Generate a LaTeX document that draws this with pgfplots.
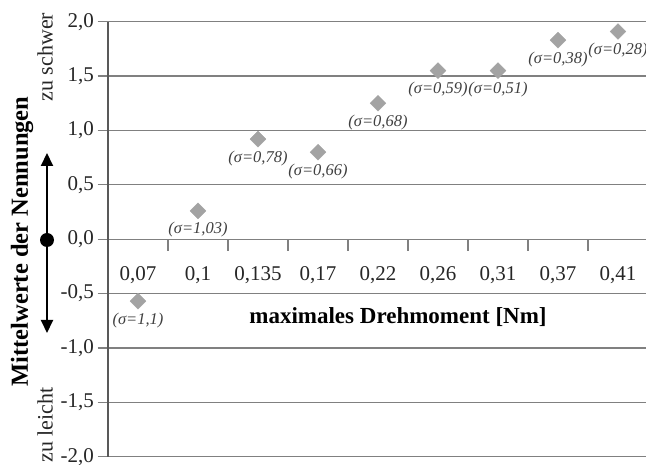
\documentclass[border=0pt]{standalone}
\usepackage{pgfplots}
\pgfplotsset{compat=1.18}
\usepackage{fontspec}
\setmainfont{Liberation Serif}
\usetikzlibrary{arrows.meta}
\definecolor{gridgray}{RGB}{128,128,128}
\definecolor{markgray}{RGB}{163,163,163}
\begin{document}
\begin{tikzpicture}
\begin{axis}[
 scale only axis, width=540bp, height=435bp,
 at={(108bp,8.3bp)}, anchor=south west,
 xmin=-0.5, xmax=8.5, ymin=-2, ymax=2,
 clip=false,
 axis x line=middle, axis y line=left,
 x axis line style={-, draw=gridgray, line width=1.2bp},
 y axis line style={-, draw=black!65, line width=1.3bp},
 hide obscured x ticks=false, hide obscured y ticks=false,
 tick align=outside,
 xtick={0,1,2,3,4,5,6,7,8},
 xticklabels={{0,07},{0,1},{0,135},{0,17},{0,22},{0,26},{0,31},{0,37},{0,41}},
 xticklabel style={anchor=base, yshift=-31bp},
 major x tick style={draw=none},
 major tick length=10.5bp,
 ytick={-2,-1.5,-1,-0.5,0,0.5,1,1.5,2},
 ymajorgrids,
 grid style={draw=gridgray, line width=1.2bp},
 tick style={draw=gridgray, line width=1.2bp},
 tick label style={font=\fontsize{21bp}{25bp}\selectfont, text=black!85},
 yticklabel style={anchor=east, /pgf/number format/fixed, /pgf/number format/fixed zerofill, /pgf/number format/precision=1, /pgf/number format/use comma, /pgf/number format/assume math mode=true},
]
\addplot[only marks, draw=markgray, mark=square*, mark size=5.6bp,
  mark options={rotate=45, fill=markgray, draw=markgray},
  nodes near coords, point meta=explicit symbolic,
  nodes near coords style={anchor=center, yshift=-19bp, font=\itshape\fontsize{16.5bp}{19bp}\selectfont, text=black!75}]
  table[meta=label] {
x y label
0 -0.57 (σ=1,1)
1 0.26 (σ=1,03)
2 0.92 (σ=0,78)
3 0.80 (σ=0,66)
4 1.25 (σ=0,68)
5 1.55 (σ=0,59)
6 1.55 (σ=0,51)
7 1.83 (σ=0,38)
8 1.91 (σ=0,28)
};
\end{axis}
\foreach \tx in {168,228,288,348,408,468,528,588}{
  \draw[gridgray, line width=1.3bp] (\tx bp,225bp) -- (\tx bp,214bp);
}
\node[rotate=90, font=\bfseries\fontsize{24.5bp}{29bp}\selectfont] at (22bp,223.5bp) {Mittelwerte der Nennungen};
\node[rotate=90, font=\fontsize{22bp}{26bp}\selectfont, text=black!85] at (45bp,408bp) {zu schwer};
\node[rotate=90, font=\fontsize{22bp}{26bp}\selectfont, text=black!85] at (45bp,40bp) {zu leicht};
\draw[line width=2bp, -{Triangle[width=12bp,length=13bp]}] (47bp,225bp) -- (47bp,132bp);
\draw[line width=2bp, -{Triangle[width=12bp,length=13bp]}] (47bp,225bp) -- (47bp,312bp);
\fill (47bp,225bp) circle (7bp);
\node[font=\bfseries\fontsize{23bp}{27bp}\selectfont] at (398bp,148bp) {maximales Drehmoment [Nm]};
\pgfresetboundingbox
\path[use as bounding box] (0,0) rectangle (646bp,465bp);
\end{tikzpicture}
\end{document}
